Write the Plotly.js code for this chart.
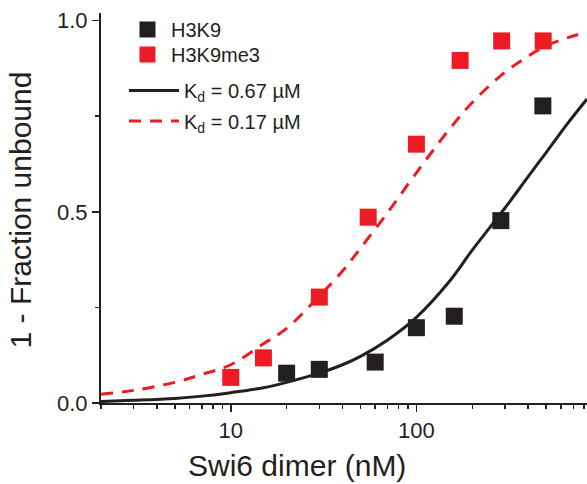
<!DOCTYPE html>
<html><head><meta charset="utf-8">
<script src="https://cdn.plot.ly/plotly-3.0.1.min.js"></script>
<style>html,body{margin:0;padding:0;background:#fff;} #chart{width:587px;height:484px;}</style>
</head><body><div id="chart"></div>
<script>
// measured data (Swi6 dimer, nM vs 1 - fraction unbound)
const h3k9X = [20, 30, 60, 100, 160, 285, 480];
const h3k9Y = [0.078, 0.088, 0.107, 0.197, 0.227, 0.477, 0.777];
const h3k9me3X = [10, 15, 30, 55, 100, 172, 288, 482];
const h3k9me3Y = [0.067, 0.118, 0.277, 0.486, 0.677, 0.896, 0.947, 0.947];
// fitted curves
const fitX = [2, 3, 5, 7, 10, 15, 20, 30, 40, 50, 70, 100, 150, 200, 300, 400, 500, 650, 830];
const fitH3K9 = [0.004, 0.007, 0.012, 0.018, 0.027, 0.040, 0.054, 0.078, 0.100, 0.122, 0.165, 0.224, 0.317, 0.400, 0.510, 0.592, 0.655, 0.730, 0.795];
const fitH3K9me3 = [0.023, 0.033, 0.054, 0.075, 0.100, 0.155, 0.195, 0.280, 0.345, 0.405, 0.498, 0.602, 0.715, 0.786, 0.865, 0.907, 0.934, 0.955, 0.970];
// labels
const seriesNames = ['H3K9', 'H3K9me3'];
const fitNames = ['K<sub>d</sub> = 0.67 µM', 'K<sub>d</sub> = 0.17 µM'];
const xTickVals = [10, 100];
const xTickText = ['10', '100'];
const xMinorVals = [2, 3, 4, 5, 6, 7, 8, 9, 20, 30, 40, 50, 60, 70, 80, 90, 200, 300, 400, 500, 600, 700, 800];
const yTickVals = [0, 0.5, 1];
const yTickText = ['0.0', '0.5', '1.0'];
const yMinorVals = [0.25, 0.75];
const xTitle = 'Swi6 dimer (nM)';
const yTitle = '1 - Fraction unbound';

const BLACK = '#231f20', RED = '#ed1c24';
const FONT = 'Liberation Sans, Arial, sans-serif';

const traces = [
  {x: fitX, y: fitH3K9, mode: 'lines', name: fitNames[0], legend: 'legend3',
   line: {color: BLACK, width: 3, shape: 'spline'}},
  {x: fitX, y: fitH3K9me3, mode: 'lines', name: fitNames[1], legend: 'legend4',
   line: {color: RED, width: 3, shape: 'spline', dash: '12px,9px'}},
  {x: h3k9X, y: h3k9Y, mode: 'markers', name: seriesNames[0], legend: 'legend',
   marker: {symbol: 'square', size: 17, color: BLACK}},
  {x: h3k9me3X, y: h3k9me3Y, mode: 'markers', name: seriesNames[1], legend: 'legend2',
   marker: {symbol: 'square', size: 17, color: RED}}
];

function leg(x, y, w) {
  return {x: x, y: y, xanchor: 'left', yanchor: 'top', bgcolor: 'rgba(0,0,0,0)',
    font: {family: FONT, size: 20, color: BLACK}, tracegroupgap: 0, itemwidth: w};
}

const layout = {
  width: 587, height: 484,
  margin: {l: 101, r: 0, t: 13, b: 81},
  paper_bgcolor: '#fff', plot_bgcolor: '#fff',
  font: {family: FONT, color: BLACK, size: 20},
  showlegend: true,
  legend: leg(0.0473, 1.0077, 37),
  legend2: leg(0.0473, 0.9436, 37),
  legend3: leg(0.0473, 0.8513, 50),
  legend4: leg(0.0473, 0.7731, 50),
  xaxis: {
    type: 'log', range: [Math.log10(2), Math.log10(830)],
    showline: true, linecolor: BLACK, linewidth: 2, mirror: false,
    showgrid: false, zeroline: false,
    tickmode: 'array', tickvals: xTickVals, ticktext: xTickText,
    ticks: 'outside', ticklen: 7, tickwidth: 1.5, tickcolor: BLACK,
    tickfont: {family: FONT, size: 22, color: BLACK},
    minor: {tickmode: 'array', tickvals: xMinorVals, ticks: 'outside', ticklen: 4, tickwidth: 1.5, tickcolor: BLACK, showgrid: false},
    automargin: false
  },
  yaxis: {
    range: [0, 1.02],
    showline: true, linecolor: BLACK, linewidth: 2, mirror: false,
    showgrid: false, zeroline: false,
    tickmode: 'array', tickvals: yTickVals, ticktext: yTickText,
    ticks: 'outside', ticklen: 7, tickwidth: 1.5, tickcolor: BLACK,
    tickfont: {family: FONT, size: 22, color: BLACK},
    minor: {tickmode: 'array', tickvals: yMinorVals, ticks: 'outside', ticklen: 4, tickwidth: 1.5, tickcolor: BLACK, showgrid: false},
    automargin: false
  },
  annotations: [
    {text: xTitle, xref: 'paper', yref: 'paper', x: 0.4033, y: -0.159,
     xanchor: 'center', yanchor: 'middle', showarrow: false,
     font: {family: FONT, size: 30, color: BLACK}},
    {text: yTitle, xref: 'paper', yref: 'paper', x: -0.1656, y: 0.495,
     xanchor: 'center', yanchor: 'middle', showarrow: false, textangle: -90,
     font: {family: FONT, size: 30, color: BLACK}}
  ]
};

Plotly.newPlot('chart', traces, layout, {staticPlot: true, displayModeBar: false});
</script>
</body></html>
